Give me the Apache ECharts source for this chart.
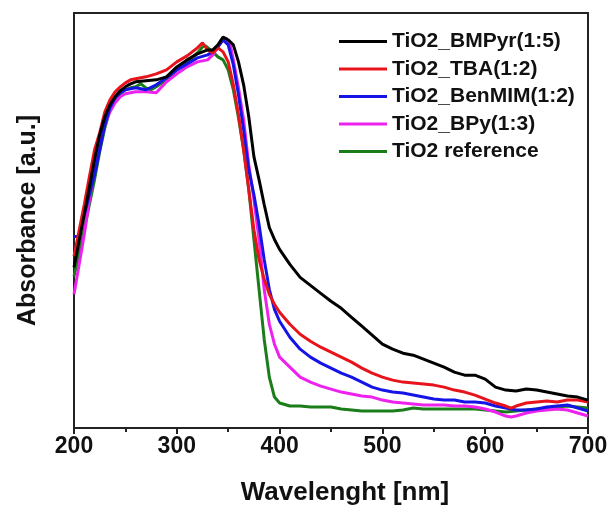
<!DOCTYPE html>
<html><head><meta charset="utf-8">
<script src="https://cdn.jsdelivr.net/npm/echarts@6/dist/echarts.min.js"></script>
<style>html,body{margin:0;padding:0;background:#fff}#c{width:611px;height:511px}</style>
</head><body><div id="c"></div>
<script>
const seriesNames = ['TiO2_BMPyr(1:5)','TiO2_TBA(1:2)','TiO2_BenMIM(1:2)','TiO2_BPy(1:3)','TiO2 reference'];
const xTicks = [200,300,400,500,600,700];

const bmpyr = [[200,161],[210,214],[220,269],[225,294],[230,312],[235,324],[240,332],[245,338],[250,342],[255,345],[260,347],[270,348],[280,349],[290,352],[300,362],[310,369],[320,375],[330,379],[335,379],[340,384],[345,392],[350,389],[355,384],[360,367],[365,344],[370,312],[375,272],[380,249],[385,224],[390,201],[395,189],[400,179],[410,164],[420,151],[430,143],[440,135],[450,127],[460,120],[470,111],[480,102],[490,93],[500,84],[510,79],[520,75],[530,73],[540,69],[550,65],[560,61],[570,56],[580,53],[590,53],[600,49],[610,41],[620,38],[630,37],[640,39],[650,38],[660,36],[670,34],[680,32],[690,31],[700,28]];
const tba = [[200,172],[210,224],[215,252],[220,279],[225,296],[230,317],[235,329],[240,337],[245,342],[250,346],[255,349],[260,350],[270,352],[280,355],[290,359],[300,367],[310,373],[320,381],[325,386],[330,379],[335,376],[340,381],[345,377],[350,367],[355,344],[360,314],[365,279],[370,239],[375,199],[380,169],[385,149],[390,134],[395,124],[400,116],[410,104],[420,94],[430,87],[440,81],[450,76],[460,71],[470,66],[480,60],[490,55],[500,51],[510,48],[520,46],[530,45],[540,44],[550,43],[560,41],[570,38],[580,36],[590,33],[600,29],[610,25],[620,22],[625,20],[630,22],[640,25],[650,26],[660,27],[670,26],[680,28],[690,28],[700,26]];
const benmim = [[200,192],[205,192],[210,214],[215,234],[220,254],[225,279],[230,304],[235,321],[240,331],[245,336],[250,339],[260,341],[270,339],[280,344],[290,351],[300,359],[310,365],[320,371],[330,374],[335,377],[340,382],[345,389],[350,384],[355,364],[360,334],[365,299],[370,259],[375,234],[380,204],[385,169],[390,139],[395,119],[400,107],[410,91],[420,79],[430,71],[440,65],[450,60],[460,55],[470,51],[480,46],[490,41],[500,38],[510,36],[520,35],[530,33],[540,31],[550,29],[560,28],[570,28],[580,26],[590,26],[600,25],[610,22],[620,20],[630,18],[640,18],[650,19],[660,21],[670,22],[680,23],[690,20],[700,17]];
const bpy = [[200,134],[205,164],[210,194],[215,229],[220,259],[225,284],[230,304],[235,317],[240,326],[245,332],[250,335],[260,337],[270,337],[280,336],[290,347],[300,355],[310,362],[320,367],[330,369],[335,374],[340,382],[345,389],[348,391],[352,384],[355,369],[360,341],[365,309],[370,264],[375,229],[380,189],[385,139],[390,104],[395,84],[400,71],[410,61],[420,51],[430,46],[440,42],[450,39],[460,36],[470,34],[480,32],[490,31],[500,28],[510,26],[520,25],[530,24],[540,23],[550,23],[560,23],[570,22],[580,22],[590,21],[600,19],[610,16],[620,12],[625,11],[630,12],[640,15],[650,17],[660,18],[670,19],[680,18],[690,15],[700,12]];
const reference = [[200,152],[205,174],[210,199],[215,224],[220,249],[225,277],[230,301],[235,319],[240,329],[245,335],[250,339],[255,341],[260,342],[265,345],[270,341],[275,339],[280,342],[290,349],[300,359],[310,367],[320,376],[325,382],[328,383],[335,377],[340,372],[345,369],[350,359],[355,339],[360,311],[365,279],[370,239],[375,189],[380,139],[385,89],[390,51],[395,31],[400,25],[410,22],[420,22],[430,21],[440,21],[450,21],[460,19],[470,18],[480,17],[490,17],[500,17],[510,17],[520,18],[530,20],[540,19],[550,19],[560,19],[570,19],[580,19],[590,19],[600,18],[610,17],[620,16],[630,17],[640,18],[650,19],[660,20],[670,21],[680,22],[690,21],[700,20]];

const colors = ['#000000','#e8141c','#1414e6','#ee22ee','#1a7d1a'];
const allData = [bmpyr, tba, benmim, bpy, reference];

const chart = echarts.init(document.getElementById('c'));
const font = 'Liberation Sans, Arial, sans-serif';
chart.setOption({
  animation: false,
  grid: {left: 74, right: 23, top: 13, bottom: 82, show: true, borderColor: '#222', borderWidth: 2},
  legend: {
    data: seriesNames, orient: 'vertical', left: 334, top: 26,
    icon: 'rect', itemWidth: 48, itemHeight: 3, itemGap: 6.5, itemTextGap: 7,
    textStyle: {fontFamily: font, fontWeight: 'bold', fontSize: 21, color: '#111', lineHeight: 21}
  },
  xAxis: {
    type: 'value', min: 200, max: 700, interval: 100,
    name: 'Wavelenght [nm]', nameLocation: 'middle', nameGap: 52,
    nameTextStyle: {fontFamily: font, fontWeight: 'bold', fontSize: 26, color: '#111', padding: [0, 0, 0, 28]},
    axisLine: {show: true, lineStyle: {color: '#222', width: 2}},
    axisTick: {show: true, inside: false, length: 6, lineStyle: {color: '#222', width: 2}},
    minorTick: {show: true, splitNumber: 2, length: 4, lineStyle: {color: '#222', width: 2}},
    axisLabel: {fontFamily: font, fontWeight: 'bold', fontSize: 23, color: '#111', margin: 7,
      formatter: v => xTicks.includes(v) ? String(v) : ''},
    splitLine: {show: false}
  },
  yAxis: {
    type: 'value', min: 0, max: 416,
    name: 'Absorbance [a.u.]', nameLocation: 'middle', nameGap: 33,
    nameTextStyle: {fontFamily: font, fontWeight: 'bold', fontSize: 25, color: '#111'},
    axisLine: {show: true, lineStyle: {color: '#222', width: 2}},
    axisTick: {show: false}, axisLabel: {show: false}, splitLine: {show: false}
  },
  series: allData.map((d, i) => ({
    name: seriesNames[i], type: 'line', data: d, symbol: 'none', smooth: false,
    lineStyle: {color: colors[i], width: 3}, itemStyle: {color: colors[i]}, z: 10 - i
  }))
});
</script></body></html>
